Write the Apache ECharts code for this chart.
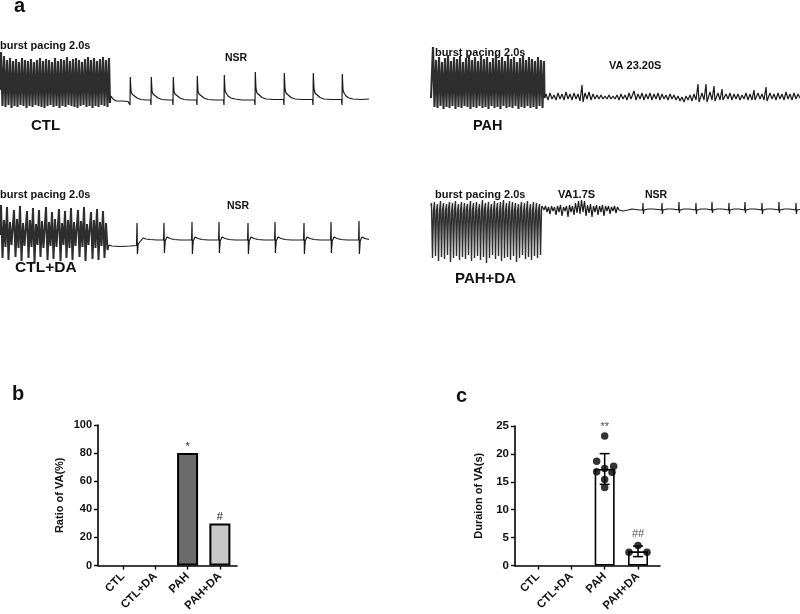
<!DOCTYPE html>
<html><head><meta charset="utf-8">
<script src="https://cdn.jsdelivr.net/npm/echarts@6/dist/echarts.min.js"></script>
<style>html,body{margin:0;padding:0;background:#fff}#c{width:800px;height:614px}</style>
</head><body><div id="c"></div>
<script>
// ---------- DATA ----------
// ECG traces: [time (sample units), amplitude (arb. units, baseline = 0)]
const traceCTL = [
[0,10],[1,48],[2.5,-6],[4,44],[5.5,-7],[7,40],[8.5,-5],[10,42],[11.5,-8],[13,39],[14.5,-6],[16,41],[17.5,-7],[19,38],[20.5,-5],[22,42],[23.5,-6],[25,40],[26.5,-8],[28,39],[29.5,-6],[31,41],[32.5,-7],[34,38],[35.5,-5],[37,40],[38.5,-6],[40,42],[41.5,-7],[43,39],[44.5,-8],[46,41],[47.5,-6],[49,40],[50.5,-5],[52,38],[53.5,-7],[55,42],[56.5,-6],[58,39],[59.5,-8],[61,41],[62.5,-6],[64,40],[65.5,-7],[67,43],[68.5,-5],[70,39],[71.5,-6],[73,41],[74.5,-7],[76,42],[77.5,-8],[79,40],[80.5,-6],[82,38],[83.5,-5],[85,41],[86.5,-7],[88,43],[89.5,-6],[91,40],[92.5,-8],[94,42],[95.5,-6],[97,39],[98.5,-7],[100,41],[101.5,-5],[103,43],[104.5,-6],[106,40],[107.5,-7],[109,42],[110,-3],
[111,4],[113,1],[116,-1],[122,-1],[128,-1.5],
[129.5,-1],[130,-5],[130.3,23],[131,9],[132,6],[134,4],[137,2],[141,0.5],[146,0],
[150.5,0],[151,-5],[151.3,23],[152,9],[153,6],[155,4],[158,2],[162,0.5],[168,0],
[172.5,0],[173,-5],[173.3,23],[174,9],[175,6],[177,4],[180,2],[184,0.5],[190,0],
[196.5,0],[197,-5],[197.3,24],[198,9],[199,6],[201,4],[204,2],[208,0.5],[215,0],
[223.5,0],[224,-5],[224.3,25],[225,10],[226,7],[228,4],[231,2],[235,1],[242,0],
[254.5,0],[255,-5],[255.3,28],[256,11],[257,7],[259,5],[262,2.5],[266,1],[274,0.5],
[283.5,0.5],[284,-5],[284.3,27],[285,11],[286,7],[288,5],[291,2.5],[295,1],[303,0.5],
[312.5,0.5],[313,-5],[313.3,27],[314,11],[315,7],[317,5],[320,2.5],[324,1],[332,0.5],
[341.5,0.5],[342,-5],[342.3,26],[343,10],[344,7],[346,4],[349,2],[353,1],[361,0.5],[369,1]
];
const tracePAH = [
[0,0],[1.5,1],[2,51],[3.5,-9],[5,38],[6.5,-10],[8,41],[9.5,-8],[11,36],[12.5,-11],[14,40],[15.5,-9],[17,43],[18.5,-10],[20,37],[21.5,-8],[23,41],[24.5,-11],[26,39],[27.5,-9],[29,42],[30.5,-10],[32,36],[33.5,-8],[35,40],[36.5,-9],[38,43],[39.5,-11],[41,38],[42.5,-9],[44,41],[45.5,-10],[47,37],[48.5,-8],[50,42],[51.5,-10],[53,39],[54.5,-9],[56,41],[57.5,-11],[59,36],[60.5,-8],[62,40],[63.5,-10],[65,43],[66.5,-9],[68,38],[69.5,-11],[71,41],[72.5,-8],[74,37],[75.5,-10],[77,42],[78.5,-9],[80,39],[81.5,-10],[83,41],[84.5,-8],[86,36],[87.5,-11],[89,40],[90.5,-9],[92,42],[93.5,-10],[95,38],[96.5,-8],[98,41],[99.5,-10],[101,39],[102.5,-9],[104,37],[105.5,-11],[107,41],[108.5,-8],[110,38],[111.5,-10],[113,37],[113.5,0],
[115,4],[117,-2],[119,5],[121,-1],[123,3],[125,-2],[127,5],[129,-1],[131,4],[133,-2],[135,6],[137,-1],[139,4],[141,-2],[143,5],[145,-1],[147,4],[149,-3],[151,13],[152,-4],[154,5],[156,-1],[158,6],[160,-2],[162,4],[164,-1],[166,3],[168,-1],[170,3],[172,-1],[174,2],[176,-1],[178,3],[180,-1],[182,2],[184,-1],[186,3],[188,-2],[190,4],[192,-1],[194,3],[196,-2],[198,5],[200,-1],[203,7],[205,-2],[207,4],[209,-1],[211,5],[213,-2],[215,4],[217,-1],[219,5],[221,-2],[223,4],[225,-1],[227,5],[229,-2],[231,4],[233,-1],[235,3],[237,-2],[239,4],[241,-1],[243,3],[245,-2],[247,2],[249,-3],[251,1],[253,-4],[255,2],[257,-2],[259,3],[261,-3],[263,4],[265,-2],[267,14],[268,-4],[271,5],[273,-2],[275,14],[276,-4],[279,6],[281,-2],[283,12],[284,-3],[287,5],[289,-2],[291,9],[292,-2],[295,4],[297,-1],[299,5],[301,-2],[303,4],[305,-1],[307,4],[309,-2],[311,3],[313,-1],[315,5],[317,-2],[319,4],[321,-2],[323,8],[324,-2],[327,5],[329,-1],[331,4],[333,-2],[335,11],[336,-3],[339,5],[341,-1],[343,4],[345,-2],[347,5],[349,-1],[351,4],[353,-2],[355,6],[357,-1],[359,4],[361,-2],[363,5],[365,-1],[367,4],[369,0]
];
const traceCTLDA = [
[0,5],
[1,35],[2.5,-18],[4,20],[5.5,-7],[7,33],[8.5,-20],[10,18],[11.5,-5],[14,30],[15.5,-17],[17,21],[18.5,-8],[20,34],[21.5,-21],[23,17],[24.5,-6],[27,29],[28.5,-18],[30,20],[31.5,-7],[33,32],[34.5,-22],[36,16],[37.5,-5],[39,30],[40.5,-17],[42,19],[43.5,-8],[46,33],[47.5,-20],[49,18],[50.5,-6],[52,28],[53.5,-19],[55,21],[56.5,-7],[59,31],[60.5,-21],[62,17],[63.5,-5],[65,29],[66.5,-18],[68,20],[69.5,-8],[71,32],[72.5,-20],[74,18],[75.5,-6],[78,30],[79.5,-17],[81,19],[82.5,-7],[84,33],[85.5,-21],[87,16],[88.5,-5],[91,28],[92.5,-19],[94,20],[95.5,-8],[97,31],[98.5,-20],[100,18],[101.5,-6],[103,29],[104.5,-18],[106,17],[107.5,-10],
[108.5,-5],[112,-6],[120,-6.5],[130,-6],[136.5,-5.5],
[137,17],[137.4,-14],[138.2,-4],[140,-2],[143,2],[146,1],[150,0.5],[157,0],[163.6,0],
[164,17],[164.4,-13],[165.2,-1],[167,3],[170,1.5],[174,0.5],[180,0],[191.6,0],
[192,18],[192.4,-14],[193.2,-1],[195,3],[198,1.5],[202,0.5],[208,0],[218.6,0],
[219,18],[219.4,-13],[220.2,-1],[222,3],[225,1.5],[229,0.5],[235,0],[247.6,0],
[248,17],[248.4,-14],[249.2,-1],[251,3],[254,1.5],[258,0.5],[264,0],[274.6,0],
[275,18],[275.4,-13],[276.2,-1],[278,3],[281,1.5],[285,0.5],[291,0],[303.6,0],
[304,17],[304.4,-14],[305.2,-1],[307,3],[310,1.5],[314,0.5],[320,0],[330.6,0],
[331,18],[331.4,-13],[332.2,-1],[334,3],[337,1.5],[341,0.5],[347,0],[358.6,0],
[359,19],[359.4,-14],[360.2,-1],[362,3],[365,1.5],[369,0.5]
];
const tracePAHDA = [
[0,2],[0.5,5],[1.5,-50],[2.5,-3],[3.5,6],[4.5,-48],[5.5,-2],[6.5,4],[7.5,-53],[8.5,-4],[9.5,7],[10.5,-49],[11.5,-2],[12.5,5],[13.5,-51],[14.5,-3],[15.5,4],[16.5,-47],[17.5,-1],[18.5,6],[19.5,-54],[20.5,-4],[21.5,5],[22.5,-50],[23.5,-2],[24.5,7],[25.5,-48],[26.5,-3],[27.5,4],[28.5,-52],[29.5,-2],[30.5,6],[31.5,-49],[32.5,-4],[33.5,5],[34.5,-51],[35.5,-1],[36.5,4],[37.5,-47],[38.5,-3],[39.5,7],[40.5,-53],[41.5,-2],[42.5,5],[43.5,-50],[44.5,-4],[45.5,6],[46.5,-48],[47.5,-2],[48.5,4],[49.5,-52],[50.5,-3],[51.5,8],[52.5,-49],[53.5,-1],[54.5,5],[55.5,-55],[56.5,-4],[57.5,6],[58.5,-50],[59.5,-2],[60.5,4],[61.5,-47],[62.5,-3],[63.5,7],[64.5,-51],[65.5,-2],[66.5,5],[67.5,-48],[68.5,-4],[69.5,6],[70.5,-53],[71.5,-1],[72.5,8],[73.5,-50],[74.5,-3],[75.5,5],[76.5,-49],[77.5,-2],[78.5,7],[79.5,-52],[80.5,-4],[81.5,6],[82.5,-48],[83.5,-2],[84.5,5],[85.5,-54],[86.5,-3],[87.5,4],[88.5,-50],[89.5,-1],[90.5,6],[91.5,-47],[92.5,-4],[93.5,5],[94.5,-51],[95.5,-2],[96.5,7],[97.5,-49],[98.5,-3],[99.5,4],[100.5,-52],[101.5,-2],[102.5,6],[103.5,-48],[104.5,-4],[105.5,5],[106.5,-50],[107.5,-2],[108.5,4],[109.5,-47],[110.5,-1],[111,2],
[113,-2],[114.5,2],[116,-4],[117.5,1],[119,-6],[120.5,2],[122,-3],[123.5,1],[125,-7],[126.5,2],[128,-4],[129.5,3],[131,-8],[132.5,1],[134,-3],[135.5,2],[137,-9],[138.5,3],[140,-4],[141.5,2],[143,-7],[144.5,5],[146,-5],[147.5,7],[149,-6],[150.5,8],[152,-4],[153.5,7],[155,-8],[156.5,3],[158,-5],[159.5,4],[161,-9],[162.5,2],[164,-4],[165.5,3],[167,-7],[168.5,2],[170,-4],[171.5,3],[173,-8],[174.5,2],[176,-3],[177.5,2],[179,-6],[180.5,1],[182,-3],[183.5,2],[185,-5],[186.5,1],[188,-2],[190,-1],[192,-3],[194,-1],
[197,-2],[201,-1],[205,-1.5],[209,-2],[211.6,-2],[212,5],[212.4,-6],[213,-2],[217,-1],[222,-1],[227,-1.5],[230.6,-2],[231,5],[231.4,-6],[232,-2],[236,-1],[241,-1],[245,-1.5],[247.6,-2],[248,6],[248.4,-5],[249,-2],[253,-1],[258,-1],[262,-1.5],[264.6,-2],[265,5],[265.4,-6],[266,-2],[270,-1],[275,-1],[278,-1.5],[280.6,-2],[281,6],[281.4,-5],[282,-2],[286,-1],[291,-1],[295,-1.5],[297.6,-2],[298,5],[298.4,-6],[299,-2],[303,-1],[308,-1],[311,-1.5],[313.6,-2],[314,6],[314.4,-5],[315,-2],[319,-1],[324,-1],[328,-1.5],[330.6,-2],[331,5],[331.4,-6],[332,-2],[336,-1],[341,-1],[345,-1.5],[347.6,-2],[348,6],[348.4,-5],[349,-2],[353,-1],[358,-1],[362,-1.5],[364.6,-2],[365,5],[365.4,-6],[366,-2],[369,-1.5]
];
// end of the burst-pacing segment in each trace (time units)
const burstEnd = [110, 113.5, 108.5, 111];

// Panel b / c
const groups = ['CTL', 'CTL+DA', 'PAH', 'PAH+DA'];
const ratioVA = [0, 0, 80, 30];            // %
const ratioSig = ['', '', '*', '#'];
const durationMean = [0, 0, 17.3, 2.55];   // s
const durationSD = [0, 0, 2.75, 0.95];
const durationSig = ['', '', '**', '##'];
const pahPoints = [23.2, 18.7, 17.8, 17.4, 16.8, 16.7, 15.4, 14.0];
const pahJitter = [0, -0.24, 0.27, 0, -0.24, 0.22, 0, 0];
const pahdaPoints = [3.6, 2.4, 2.4];
const pahdaJitter = [0, -0.27, 0.27];
const ratioTicks = [0, 20, 40, 60, 80, 100];
const durationTicks = [0, 5, 10, 15, 20, 25];

// ---------- CHART ----------
const FONT = '"Liberation Sans", Arial, sans-serif';
const chart = echarts.init(document.getElementById('c'), null, {renderer: 'canvas'});
const burstWidth = [2.1, 2.1, 2, 1.4];

function hiddenAxis(gi, min, max) {
  return {gridIndex: gi, type: 'value', min: min, max: max, show: false};
}
function traceSeries(gi, data, width, color) {
  return {type: 'line', xAxisIndex: gi, yAxisIndex: gi, data: data, showSymbol: false,
    symbol: 'none', lineStyle: {color: color, width: width}, silent: true, clip: true, z: 2};
}
function traceParts(gi, data) {
  const end = burstEnd[gi];
  return [
    traceSeries(gi, data.filter(p => p[0] <= end), burstWidth[gi], '#2e2e2e'),
    traceSeries(gi, data.filter(p => p[0] >= end), 1.2, '#1a1a1a')
  ];
}
function barXAxis(gi, min, max) {
  return {gridIndex: gi, type: 'value', min: min, max: max,
    axisLine: {show: true, onZero: false, lineStyle: {color: '#000', width: 1.6}},
    axisTick: {show: true, customValues: [1, 2, 3, 4], length: 4, lineStyle: {color: '#000', width: 1.4}},
    axisLabel: {customValues: [1, 2, 3, 4], rotate: 45, margin: 9, fontFamily: FONT, fontWeight: 'bold',
      fontSize: 11.5, color: '#111', formatter: v => groups[Math.round(v) - 1] || ''},
    splitLine: {show: false}};
}
function barYAxis(gi, max, interval, name, nameGap, fs) {
  return {gridIndex: gi, type: 'value', min: 0, max: max, interval: interval,
    name: name, nameLocation: 'middle', nameGap: nameGap, nameRotate: 90,
    nameTextStyle: {fontFamily: FONT, fontWeight: 'bold', fontSize: 11, color: '#111'},
    axisLine: {show: true, lineStyle: {color: '#000', width: 1.6}},
    axisTick: {show: true, length: 4, lineStyle: {color: '#000', width: 1.4}},
    axisLabel: {margin: 6, fontFamily: FONT, fontWeight: 'bold', fontSize: fs, color: '#111'},
    splitLine: {show: false}};
}

const option = {
  animation: false,
  backgroundColor: '#fff',
  grid: [
    {left: 0, top: 40, width: 369, height: 80},
    {left: 431, top: 40, width: 369, height: 80},
    {left: 0, top: 190, width: 369, height: 80},
    {left: 431, top: 190, width: 369, height: 80},
    {left: 98, top: 425, width: 139, height: 142},
    {left: 515, top: 426, width: 145, height: 141}
  ],
  xAxis: [
    hiddenAxis(0, 0, 369), hiddenAxis(1, 0, 369), hiddenAxis(2, 0, 369), hiddenAxis(3, 0, 369),
    barXAxis(4, 0.226, 4.53), barXAxis(5, 0.31, 4.66)
  ],
  yAxis: [
    hiddenAxis(0, -20, 60), hiddenAxis(1, -22, 58), hiddenAxis(2, -30, 50), hiddenAxis(3, -62, 18),
    barYAxis(4, ratioTicks[ratioTicks.length - 1], ratioTicks[1] - ratioTicks[0], 'Ratio of VA(%)', 33, 11),
    barYAxis(5, durationTicks[durationTicks.length - 1], durationTicks[1] - durationTicks[0], 'Duraion of VA(s)', 31, 11.5)
  ],
  series: [].concat(
    traceParts(0, traceCTL), traceParts(1, tracePAH), traceParts(2, traceCTLDA), traceParts(3, tracePAHDA),
    [{
      type: 'bar', xAxisIndex: 4, yAxisIndex: 4, barWidth: 21,
      data: ratioVA.map((v, i) => ({
        value: [i + 1, v],
        itemStyle: {color: i === 2 ? '#6b6b6b' : '#c8c8c8', borderColor: v ? '#000' : 'transparent', borderWidth: 2}
      })),
      label: {show: true, position: 'top', distance: 1, fontFamily: FONT, fontSize: 11, color: '#222',
        formatter: p => ratioSig[p.dataIndex]}
    },
    {
      type: 'bar', xAxisIndex: 5, yAxisIndex: 5, barWidth: 20,
      data: durationMean.map((v, i) => ({
        value: [i + 1, v],
        itemStyle: {color: '#fff', borderColor: v ? '#000' : 'transparent', borderWidth: 1.6}
      }))
    },
    {
      type: 'custom', xAxisIndex: 5, yAxisIndex: 5, z: 5,
      data: durationMean.map((v, i) => [i + 1, v, durationSD[i]]),
      renderItem: function (params, api) {
        const x = api.value(0), m = api.value(1), e = api.value(2);
        if (!e) return null;
        const t = api.coord([x, m + e]), b = api.coord([x, m - e]);
        const st = {stroke: '#000', lineWidth: 1.5};
        return {type: 'group', children: [
          {type: 'line', shape: {x1: t[0], y1: t[1], x2: b[0], y2: b[1]}, style: st},
          {type: 'line', shape: {x1: t[0] - 5, y1: t[1], x2: t[0] + 5, y2: t[1]}, style: st},
          {type: 'line', shape: {x1: b[0] - 5, y1: b[1], x2: b[0] + 5, y2: b[1]}, style: st}
        ]};
      }
    },
    {
      type: 'scatter', xAxisIndex: 5, yAxisIndex: 5, z: 6, symbolSize: 7.5,
      itemStyle: {color: '#000'},
      data: pahPoints.map((v, i) => [3 + pahJitter[i], v]).concat(pahdaPoints.map((v, i) => [4 + pahdaJitter[i], v]))
    },
    {
      type: 'scatter', xAxisIndex: 5, yAxisIndex: 5, z: 6, symbolSize: 0,
      data: [[3, 24.8, durationSig[2]], [4, 5.7, durationSig[3]]],
      label: {show: true, position: 'inside', fontFamily: FONT, fontSize: 11, color: '#222',
        formatter: p => p.value[2]}
    }]
  ),
  graphic: [
    {type: 'text', left: 14, top: -4, style: {text: 'a', font: 'bold 20px ' + FONT, fill: '#111'}},
    {type: 'text', x: 0, y: 46, style: {text: 'burst pacing 2.0s', font: 'bold 11px ' + FONT, fill: '#111', verticalAlign: 'middle'}},
    {type: 'text', x: 225, y: 58, style: {text: 'NSR', font: 'bold 10.5px ' + FONT, fill: '#111', verticalAlign: 'middle'}},
    {type: 'text', x: 31, y: 126, style: {text: 'CTL', font: 'bold 15px ' + FONT, fill: '#111', verticalAlign: 'middle'}},
    {type: 'text', x: 435, y: 53, style: {text: 'burst pacing 2.0s', font: 'bold 11px ' + FONT, fill: '#111', verticalAlign: 'middle'}},
    {type: 'text', x: 609, y: 66, style: {text: 'VA 23.20S', font: 'bold 11px ' + FONT, fill: '#111', verticalAlign: 'middle'}},
    {type: 'text', x: 473, y: 126, style: {text: 'PAH', font: 'bold 14.5px ' + FONT, fill: '#111', verticalAlign: 'middle'}},
    {type: 'text', x: 0, y: 195, style: {text: 'burst pacing 2.0s', font: 'bold 11px ' + FONT, fill: '#111', verticalAlign: 'middle'}},
    {type: 'text', x: 227, y: 206, style: {text: 'NSR', font: 'bold 10.5px ' + FONT, fill: '#111', verticalAlign: 'middle'}},
    {type: 'text', x: 15, y: 268, style: {text: 'CTL+DA', font: 'bold 15.5px ' + FONT, fill: '#111', verticalAlign: 'middle'}},
    {type: 'text', x: 435, y: 195, style: {text: 'burst pacing 2.0s', font: 'bold 11px ' + FONT, fill: '#111', verticalAlign: 'middle'}},
    {type: 'text', x: 558, y: 195, style: {text: 'VA1.7S', font: 'bold 11px ' + FONT, fill: '#111', verticalAlign: 'middle'}},
    {type: 'text', x: 645, y: 195, style: {text: 'NSR', font: 'bold 10.5px ' + FONT, fill: '#111', verticalAlign: 'middle'}},
    {type: 'text', x: 455, y: 279, style: {text: 'PAH+DA', font: 'bold 15px ' + FONT, fill: '#111', verticalAlign: 'middle'}},
    {type: 'text', x: 12, y: 394, style: {text: 'b', font: 'bold 20px ' + FONT, fill: '#111', verticalAlign: 'middle'}},
    {type: 'text', x: 456, y: 396, style: {text: 'c', font: 'bold 20px ' + FONT, fill: '#111', verticalAlign: 'middle'}}
  ]
};
chart.setOption(option);
</script></body></html>
